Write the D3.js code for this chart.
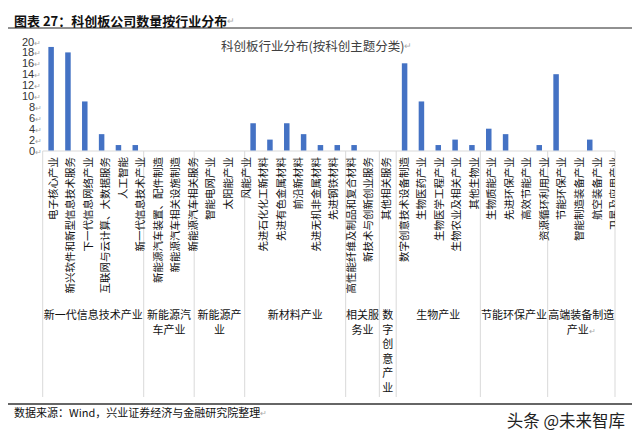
<!DOCTYPE html>
<html>
<head>
<meta charset="utf-8">
<script src="https://cdn.jsdelivr.net/npm/d3@7/dist/d3.min.js"></script>
<style>
  body { margin: 0; background: #fff; }
  svg { display: block; font-family: "Noto Sans CJK SC", "Noto Sans", sans-serif; }
</style>
</head>
<body>
<svg id="chart" width="640" height="439"></svg>
<script>
const categories = [
  '电子核心产业', '新兴软件和新型信息技术服务', '下一代信息网络产业', '互联网与云计算、大数据服务', '人工智能', '新一代信息技术产业',
  '新能源汽车装置、配件制造', '新能源汽车相关设施制造', '新能源汽车相关服务',
  '智能电网产业', '太阳能产业', '风能产业',
  '先进石化化工新材料', '先进有色金属材料', '前沿新材料', '先进无机非金属材料', '先进钢铁材料', '高性能纤维及制品和复合材料',
  '新技术与创新创业服务', '其他相关服务',
  '数字创意技术设备制造',
  '生物医药产业', '生物医学工程产业', '生物农业及相关产业', '其他生物业', '生物质能产业',
  '先进环保产业', '高效节能产业', '资源循环利用产业', '节能环保产业',
  '智能制造装备产业', '航空装备产业', '卫星及应用产业', '轨道交通装备产业'
];
const companyCounts = [
  19, 18, 9, 3, 1, 1,
  0, 0, 0,
  0, 0, 0,
  5, 2, 5, 3, 1, 1,
  1, 0,
  0,
  16, 9, 1, 2, 1,
  4, 3, 0, 1,
  14, 0, 2, 0
];
const groupNames = ['新一代信息技术产业', '新能源汽车产业', '新能源产业', '新材料产业', '相关服务业', '数字创意产业', '生物产业', '节能环保产业', '高端装备制造产业'];
const groupSizes = [6, 3, 3, 6, 2, 1, 5, 4, 4];
const yTicks = [0, 2, 4, 6, 8, 10, 12, 14, 16, 18, 20];

const PARA = '\u21b5';
const svg = d3.select('#chart');

const x = d3.scaleBand().domain(categories).range([42.7, 615]);
const y = d3.scaleLinear().domain([0, 20]).range([150.5, 41.5]);
// the word-pasted labels drift a little wider than the bars
const labelX = d3.scalePoint().domain(categories).range([52, 52 + 17.55 * (categories.length - 1)]);

// page title + rule
svg.append('text')
  .attr('x', 14).attr('y', 20)
  .attr('dominant-baseline', 'central')
  .attr('font-size', 13).attr('font-weight', 'bold').attr('fill', '#111')
  .text('图表 27：科创板公司数量按行业分布')
  .append('tspan').attr('fill', '#aaa').attr('font-weight', 'normal').attr('font-size', 9).text(PARA);
svg.append('line').attr('x1', 8).attr('x2', 632).attr('y1', 28).attr('y2', 28)
  .attr('stroke', '#222').attr('stroke-width', 1);

// chart title
svg.append('text')
  .attr('x', 221).attr('y', 45)
  .attr('dominant-baseline', 'central')
  .attr('font-size', 12.5).attr('fill', '#404040')
  .text('科创板行业分布(按科创主题分类)')
  .append('tspan').attr('fill', '#aaa').attr('font-size', 9).text(PARA);

// y axis labels
const yAxis = svg.append('g')
  .attr('transform', 'translate(36,0)')
  .call(d3.axisLeft(y).tickValues(yTicks).tickSize(0).tickPadding(0));
yAxis.select('.domain').remove();
yAxis.selectAll('text')
  .attr('font-family', '"Liberation Sans Narrow", "Liberation Sans", sans-serif')
  .attr('font-size', 11).attr('fill', '#333')
  .append('tspan').attr('fill', '#aaa').attr('font-size', 8).text(PARA);
yAxis.selectAll('text').attr('text-anchor', 'start').attr('x', d => d >= 10 ? -14 : -7);

// category axis baseline
svg.append('line')
  .attr('x1', x.range()[0]).attr('x2', x.range()[1])
  .attr('y1', y(0) + 0.5).attr('y2', y(0) + 0.5)
  .attr('stroke', '#d9d9d9');

// bars
const barWidth = 5.5;
svg.append('g').selectAll('rect')
  .data(categories)
  .enter()
  .append('rect')
  .attr('x', d => x(d) + x.bandwidth() / 2 - barWidth / 2)
  .attr('width', barWidth)
  .attr('y', (d, i) => y(companyCounts[i]))
  .attr('height', (d, i) => y(0) - y(companyCounts[i]))
  .attr('fill', '#4472C4');

// group dividers
let start = 0;
const groups = groupNames.map((name, gi) => {
  const g = { name, first: categories[start], last: categories[start + groupSizes[gi] - 1] };
  start += groupSizes[gi];
  return g;
});
const bounds = [x.range()[0]].concat(groups.map(g => x(g.last) + x.bandwidth()));
svg.append('g').selectAll('line')
  .data(bounds)
  .enter()
  .append('line')
  .attr('x1', d => d).attr('x2', d => d)
  .attr('y1', y(0) + 0.5).attr('y2', 397)
  .attr('stroke', '#d9d9d9');

// first level labels (rotated), the last ones run off the edge
svg.append('clipPath').attr('id', 'labclip')
  .append('rect').attr('x', 0).attr('y', 150).attr('width', 615).attr('height', 160);
svg.append('g').attr('clip-path', 'url(#labclip)')
  .selectAll('text')
  .data(categories)
  .enter()
  .append('text')
  .attr('transform', d => `translate(${labelX(d)},157) rotate(-90)`)
  .attr('text-anchor', 'end')
  .attr('dominant-baseline', 'central')
  .attr('font-size', 10.5).attr('fill', '#111')
  .text(d => d);

// second level labels
const groupFont = 11;
groups.forEach((g, gi) => {
  const x0 = x(g.first);
  const x1 = x(g.last) + x.bandwidth();
  const perLine = Math.max(1, Math.floor((x1 - x0 + 2) / groupFont));
  const chars = Array.from(g.name);
  const lines = [];
  for (let k = 0; k < chars.length; k += perLine) lines.push(chars.slice(k, k + perLine).join(''));
  const t = svg.append('text')
    .attr('text-anchor', 'middle')
    .attr('font-size', groupFont).attr('fill', '#111');
  lines.forEach((ln, li) => {
    const ts = t.append('tspan')
      .attr('x', (x0 + x1) / 2)
      .attr('y', 319 + li * 14.5)
      .text(ln);
    if (gi === groups.length - 1 && li === lines.length - 1) {
      ts.append('tspan').attr('fill', '#aaa').attr('font-size', 8).text(PARA);
    }
  });
});

// source + rule
svg.append('line').attr('x1', 8).attr('x2', 632).attr('y1', 404).attr('y2', 404)
  .attr('stroke', '#333').attr('stroke-width', 1.3);
svg.append('text')
  .attr('x', 14).attr('y', 412)
  .attr('dominant-baseline', 'central')
  .attr('font-size', 11).attr('fill', '#111')
  .text('数据来源：Wind，兴业证券经济与金融研究院整理')
  .append('tspan').attr('fill', '#aaa').attr('font-size', 8).text(PARA);

// watermark
svg.append('text')
  .attr('x', 625).attr('y', 420)
  .attr('text-anchor', 'end')
  .attr('dominant-baseline', 'central')
  .attr('font-size', 16.5).attr('fill', '#222')
  .attr('stroke', '#fff').attr('stroke-width', 2.5).attr('paint-order', 'stroke')
  .text('头条 @未来智库');
</script>
</body>
</html>
